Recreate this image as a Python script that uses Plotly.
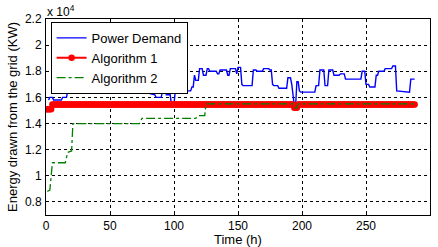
import plotly.graph_objects as go

# Values in units of 10^4 kW
demand_t = [2, 3, 5, 6, 9, 12, 13, 16, 17, 20, 21, 22, 23, 25, 26, 28, 29, 36, 37, 41, 42, 47, 48, 51,
            52, 55, 56, 59, 60, 62, 63, 65, 66, 77, 78, 80, 81, 85, 86, 90, 91, 92, 93, 94, 97, 98, 100,
            101, 113, 114, 115, 116, 117, 119, 120, 122, 123, 125, 126, 127, 128, 133, 134, 135, 136,
            141, 142, 143, 144, 148, 149, 150, 152, 153, 154, 161, 162, 164, 165, 169, 170, 174, 175,
            176, 177, 178, 181, 182, 188, 189, 191, 192, 193, 194, 195, 196, 197, 198, 199, 210, 211,
            213, 214, 217, 218, 220, 221, 224, 225, 229, 230, 233, 234, 246, 247, 249, 250, 252, 253,
            257, 258, 259, 260, 264, 265, 270, 271, 273, 274, 284, 285, 288]
demand_v = [1.58, 1.60, 1.60, 1.58, 1.58, 1.58, 1.60, 1.60, 1.65, 1.65, 1.76, 1.76, 1.68, 1.68, 1.77,
            1.75, 1.74, 1.74, 1.72, 1.72, 1.70, 1.70, 1.73, 1.73, 1.77, 1.77, 1.66, 1.66, 1.68, 1.68,
            1.77, 1.76, 1.75, 1.75, 1.79, 1.79, 1.63, 1.62, 1.60, 1.60, 1.64, 1.69, 1.69, 1.62, 1.62,
            1.55, 1.55, 1.65, 1.65, 1.68, 1.68, 1.77, 1.73, 1.73, 1.82, 1.82, 1.77, 1.77, 1.82, 1.82,
            1.80, 1.80, 1.78, 1.78, 1.81, 1.81, 1.77, 1.77, 1.82, 1.82, 1.78, 1.83, 1.83, 1.70, 1.69,
            1.69, 1.81, 1.81, 1.80, 1.80, 1.82, 1.82, 1.81, 1.81, 1.70, 1.69, 1.69, 1.67, 1.67, 1.75,
            1.75, 1.70, 1.62, 1.53, 1.53, 1.72, 1.72, 1.65, 1.64, 1.64, 1.69, 1.69, 1.81, 1.81, 1.69,
            1.69, 1.81, 1.81, 1.77, 1.77, 1.78, 1.78, 1.74, 1.74, 1.80, 1.80, 1.70, 1.70, 1.68, 1.68,
            1.77, 1.77, 1.80, 1.80, 1.82, 1.82, 1.84, 1.84, 1.65, 1.64, 1.74, 1.74]

# Algorithm 1: hourly values (runs of constant read values)
alg1_t = list(range(0, 289))
alg1_v = [1.51] * 5 + [1.545] * 189 + [1.52] * 3 + [1.545] * 92

# Algorithm 2 vertices
alg2_t = [1, 3, 5, 15, 17, 20, 21, 73, 75, 117, 119, 124, 125, 193, 194, 196, 197, 288]
alg2_v = [0.88, 0.89, 1.10, 1.10, 1.18, 1.19, 1.40, 1.40, 1.44, 1.44, 1.46, 1.46, 1.55, 1.55,
          1.52, 1.52, 1.55, 1.55]

x_ticks = [0, 50, 100, 150, 200, 250, 300]
y_ticks = [0.8, 1.0, 1.2, 1.4, 1.6, 1.8, 2.0, 2.2]
y_tick_labels = ["0.8", "1", "1.2", "1.4", "1.6", "1.8", "2", "2.2"]

FONT = "Liberation Sans, Arial, Helvetica, sans-serif"

fig = go.Figure()
fig.add_trace(go.Scatter(x=demand_t, y=demand_v, mode="lines", name="Power Demand",
                         line=dict(color="#0000FF", width=1.4)))
fig.add_trace(go.Scatter(x=alg1_t, y=alg1_v, mode="lines+markers", name="Algorithm 1",
                         line=dict(color="#FF0000", width=2),
                         marker=dict(color="#FF0000", size=6.5)))
fig.add_trace(go.Scatter(x=alg2_t, y=alg2_v, mode="lines", name="Algorithm 2",
                         line=dict(color="#008000", width=1.3, dash="dashdot")))

axis_common = dict(showline=True, linecolor="black", linewidth=1, mirror=True,
                   ticks="inside", ticklen=3, tickcolor="black", automargin=False,
                   showgrid=True, gridcolor="black", gridwidth=0.8, griddash="3px,3px",
                   zeroline=False, tickfont=dict(family=FONT, size=12, color="black"))

fig.update_xaxes(range=[0, 300], tickvals=x_ticks, ticklabelstandoff=0, **axis_common)
fig.update_yaxes(range=[0.7, 2.2], tickvals=y_ticks, ticktext=y_tick_labels,
                 ticklabelstandoff=1, **axis_common)

fig.update_layout(
    width=438, height=247,
    margin=dict(l=46, r=8, t=19, b=32),
    paper_bgcolor="white", plot_bgcolor="white",
    font=dict(family=FONT, color="black"),
    showlegend=True,
    legend=dict(x=0.012, y=0.985, xanchor="left", yanchor="top",
                bgcolor="white", bordercolor="black", borderwidth=1,
                font=dict(family=FONT, size=13, color="black"),
                tracegroupgap=0, itemwidth=30),
    annotations=[
        dict(text="x 10<sup>4</sup>", x=0, y=1.0, xref="paper", yref="paper",
             xanchor="left", yanchor="bottom", showarrow=False,
             font=dict(family=FONT, size=12, color="black"), xshift=-1, yshift=-2),
        dict(text="Time (h)", x=0.5, y=0, xref="paper", yref="paper",
             xanchor="center", yanchor="middle", showarrow=False, yshift=-24,
             font=dict(family=FONT, size=13, color="black")),
        dict(text="Energy drawn from the grid (KW)", x=0, y=0.5, xref="paper", yref="paper",
             xanchor="center", yanchor="middle", showarrow=False, textangle=-90, xshift=-34,
             font=dict(family=FONT, size=13, color="black")),
    ],
)

fig.write_html("out.html", config={"displayModeBar": False},
               post_script="document.body.style.margin='0';document.body.style.overflow='hidden';")
